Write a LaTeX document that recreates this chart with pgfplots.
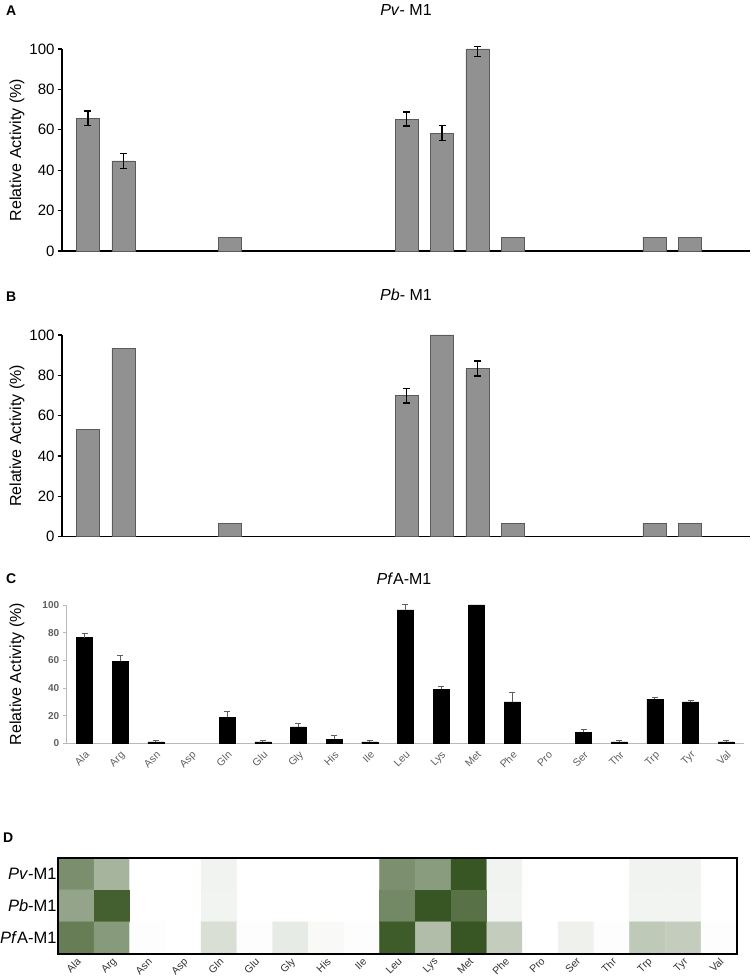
\documentclass[border=0pt]{standalone}
\usepackage{pgfplots}
\pgfplotsset{compat=1.18}
\usepackage{fontspec}
\setmainfont{Liberation Sans}
\definecolor{bargray}{RGB}{145,145,145}
\definecolor{baredge}{RGB}{90,90,90}
\definecolor{cgray}{RGB}{95,95,95}
\definecolor{caxis}{RGB}{185,185,185}
\pgfplotsset{
  /pgf/number format/assume math mode=true,
  colormap={greenmap}{rgb255=(255,255,255) rgb255=(56,86,36)},
  panelAB/.style={
    scale only axis, width=688pt, height=202pt,
    xmin=-0.734, xmax=18.7, ymin=0, ymax=100,
    axis x line*=bottom, axis y line*=left, axis line style={-, line width=1.4pt, black},
    xtick=\empty, ytick={0,20,...,100}, tick align=outside, major tick length=4pt,
    ytick style={black, line width=1.2pt},
    yticklabel style={font=\fontsize{15}{18}\selectfont},
    ylabel={Relative Activity (\%)},
    ylabel style={at={(axis description cs:-0.0654,0.5)}, anchor=center, font=\fontsize{16}{19}\selectfont},
    clip=false,
  },
  abbars/.style={ybar, bar width=23pt, fill=bargray, draw=baredge, line width=0.6pt},
  aberr/.style={draw=none, mark=none, error bars/.cd, y dir=both, y explicit,
    error bar style={draw=black, line width=1.5pt},
    error mark options={rotate=90, mark size=3.5pt, line width=1.5pt, draw=black}},
}
\begin{document}
\begin{tikzpicture}[x=1pt,y=1pt]
\useasboundingbox (0,0) rectangle (750,979);

% ---------- Panel A ----------
\begin{axis}[panelAB, at={(62pt,728pt)}, anchor=south west]
\addplot[abbars] coordinates {(0,65.7) (1,44.6) (4,6.8) (9,65.3) (10,58.4) (11,100) (12,6.8) (16,6.8) (17,6.8)};
\addplot[aberr] coordinates {(0,65.7) +- (0,3.5) (1,44.6) +- (0,3.7) (9,65.3) +- (0,3.5) (10,58.4) +- (0,3.6) (11,100) += (0,1.3) -= (0,3.6)};
\end{axis}

% ---------- Panel B ----------
\begin{axis}[panelAB, at={(62pt,442.3pt)}, anchor=south west, height=201.7pt]
\addplot[abbars] coordinates {(0,53.2) (1,93.2) (4,6.4) (9,69.9) (10,100) (11,83.3) (12,6.4) (16,6.4) (17,6.4)};
\addplot[aberr] coordinates {(9,69.9) +- (0,3.6) (11,83.3) +- (0,3.7)};
\end{axis}

% ---------- Panel C ----------
\begin{axis}[scale only axis, width=677.3pt, height=138.3pt,
  at={(66.7pt,235.7pt)}, anchor=south west,
  xmin=-0.5, xmax=18.5, ymin=0, ymax=100,
  axis x line*=bottom, axis y line*=left, axis line style={-, line width=0.8pt, caxis},
  xtick={0,...,18},
  xticklabels={Ala,Arg,Asn,Asp,Gln,Glu,Gly,His,Ile,Leu,Lys,Met,Phe,Pro,Ser,Thr,Trp,Tyr,Val},
  xtick style={draw=none},
  xticklabel style={rotate=45, anchor=north east, font=\fontsize{10.5}{12}\selectfont, text=cgray, inner sep=2pt},
  ytick={0,20,...,100}, tick align=outside, major tick length=4pt,
  ytick style={caxis, line width=0.8pt},
  yticklabel style={font=\bfseries\fontsize{10}{12}\selectfont, text=cgray},
  ylabel={Relative Activity (\%)},
  ylabel style={at={(axis description cs:-0.0734,0.5)}, anchor=center, font=\fontsize{16}{19}\selectfont},
  clip=false]
\addplot[ybar, bar width=16pt, fill=black, draw=black] coordinates {(0,76.4) (1,59.3) (2,1) (4,19) (5,1) (6,11.8) (7,3) (8,1) (9,96.4) (10,39) (11,100) (12,30) (14,8) (15,1) (16,32) (17,30) (18,1)};
\addplot[draw=none, mark=none, error bars/.cd, y dir=plus, y explicit,
  error bar style={draw=cgray, line width=0.8pt},
  error mark options={rotate=90, mark size=3pt, line width=0.8pt, draw=cgray}]
  coordinates {(0,76.4) +- (0,2.9) (1,59.3) +- (0,4.5) (2,1) +- (0,1) (4,19) +- (0,4.3) (5,1) +- (0,1) (6,11.8) +- (0,2.4) (7,3) +- (0,2.5) (8,1) +- (0,1) (9,96.4) +- (0,4) (10,39) +- (0,2.4) (12,30) +- (0,6.5) (14,8) +- (0,2.4) (15,1) +- (0,1) (16,32) +- (0,1.2) (17,30) +- (0,1.2) (18,1) +- (0,1)};
\end{axis}

% ---------- Panel D ----------
\begin{axis}[scale only axis, width=678.4pt, height=96.3pt,
  at={(58.3pt,25pt)}, anchor=south west,
  xmin=-0.5, xmax=18.5, ymin=-0.5, ymax=2.5, y dir=reverse,
  colormap name=greenmap, point meta min=0, point meta max=100,
  axis on top, axis line style={line width=1.6pt, black},
  xtick={0,...,18},
  xticklabels={Ala,Arg,Asn,Asp,Gln,Glu,Gly,His,Ile,Leu,Lys,Met,Phe,Pro,Ser,Thr,Trp,Tyr,Val},
  xtick style={draw=none}, ytick style={draw=none},
  xticklabel style={rotate=45, anchor=north east, font=\fontsize{10.5}{12}\selectfont, text=black!80, inner sep=2pt},
  ytick={0,1,2}, yticklabels={\textit{Pv}-M1,\textit{Pb}-M1,\textit{Pf}A-M1},
  yticklabel style={font=\fontsize{16.5}{19}\selectfont, inner sep=1.5pt}]
\addplot[matrix plot*, mesh/cols=19, point meta=explicit] table[meta=c] {
x y c
0 0 65.7
1 0 44.6
2 0 0
3 0 0
4 0 6.8
5 0 0
6 0 0
7 0 0
8 0 0
9 0 65.3
10 0 58.4
11 0 100
12 0 6.8
13 0 0
14 0 0
15 0 0
16 0 6.8
17 0 6.8
18 0 0
0 1 53.2
1 1 93.2
2 1 0
3 1 0
4 1 6.4
5 1 0
6 1 0
7 1 0
8 1 0
9 1 69.9
10 1 100
11 1 83.3
12 1 6.4
13 1 0
14 1 0
15 1 0
16 1 6.4
17 1 6.4
18 1 0
0 2 76.4
1 2 59.3
2 2 1
3 2 0
4 2 19
5 2 1
6 2 11.8
7 2 3
8 2 1
9 2 96.4
10 2 39
11 2 100
12 2 30
13 2 0
14 2 8
15 2 1
16 2 32
17 2 30
18 2 1
};
\end{axis}

% ---------- Titles and panel letters ----------
\node[font=\fontsize{16}{19}\selectfont] at (406,969) {\textit{Pv}- M1};
\node[font=\fontsize{16}{19}\selectfont] at (406,684) {\textit{Pb}- M1};
\node[font=\fontsize{16}{19}\selectfont] at (404,400) {\textit{Pf}A-M1};
\node[font=\bfseries\fontsize{14}{17}\selectfont, anchor=west, inner sep=0pt] at (6,968.5) {A};
\node[font=\bfseries\fontsize{14}{17}\selectfont, anchor=west, inner sep=0pt] at (6,682) {B};
\node[font=\bfseries\fontsize{14}{17}\selectfont, anchor=west, inner sep=0pt] at (6,400) {C};
\node[font=\bfseries\fontsize{14}{17}\selectfont, anchor=west, inner sep=0pt] at (3,141) {D};
\end{tikzpicture}
\end{document}
